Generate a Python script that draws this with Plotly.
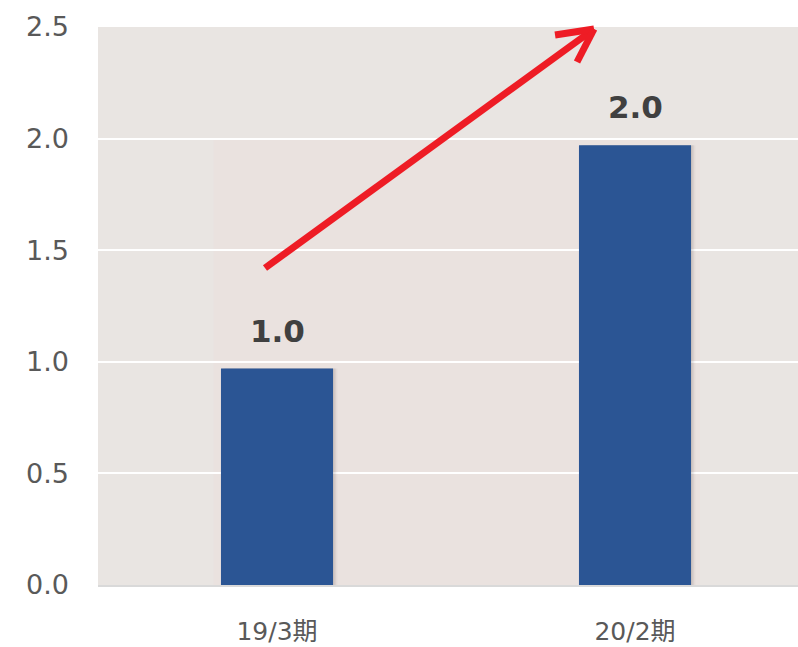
import plotly.graph_objects as go

categories = ["19/3期", "20/2期"]
values = [0.97, 1.97]
value_labels = ["1.0", "2.0"]
y_ticks = [0.0, 0.5, 1.0, 1.5, 2.0, 2.5]
y_tick_labels = ["0.0", "0.5", "1.0", "1.5", "2.0", "2.5"]

FONT = "DejaVu Sans, Noto Sans CJK JP, sans-serif"
BAR_W = 0.313

fig = go.Figure()
# soft shadow behind bars
for k, a in enumerate([0.10, 0.08, 0.05]):
    fig.add_trace(go.Bar(
        x=categories, y=values, width=BAR_W, offset=-BAR_W / 2 + 0.004 * (k + 1),
        marker=dict(color=f"rgba(90,80,75,{a})", line=dict(width=0)),
        hoverinfo="skip", showlegend=False,
    ))
fig.add_trace(go.Bar(
    x=categories, y=values, width=BAR_W, offset=-BAR_W / 2,
    marker=dict(color="#2B5594", line=dict(width=0)),
    showlegend=False,
))

for c, v, t in zip(categories, values, value_labels):
    fig.add_annotation(
        x=c, y=v, text=t, showarrow=False, xanchor="center", yanchor="bottom",
        yshift=18, font=dict(family=FONT, size=31, color="#404040", weight="bold"),
    )

# background band
fig.add_shape(type="rect", xref="paper", yref="paper", x0=0.165, x1=0.86, y0=0, y1=0.8,
              fillcolor="#EAE2DF", line=dict(width=0), layer="below")

# red trend arrow (paper coordinates)
RED = "#EE1C25"
tip = (0.7086, 0.9964)
for start in [(0.2386, 0.5681), (0.6529, 0.9857), (0.6843, 0.9373)]:
    fig.add_shape(type="line", xref="paper", yref="paper",
                  x0=start[0], y0=start[1], x1=tip[0], y1=tip[1],
                  line=dict(color=RED, width=7))

fig.update_layout(
    width=798, height=647,
    margin=dict(l=98, r=0, t=27, b=62),
    paper_bgcolor="white", plot_bgcolor="#E9E5E2",
    barmode="overlay",
    font=dict(family=FONT, color="#595959"),
)
fig.update_xaxes(
    type="category", range=[-0.5, 1.4553], automargin=False,
    showgrid=False, showline=True, linecolor="#D9D9D9", linewidth=2,
    ticks="", tickfont=dict(size=25, color="#595959"), ticklabelstandoff=23,
)
fig.update_yaxes(
    range=[0, 2.5], tickvals=y_ticks, ticktext=y_tick_labels, automargin=False,
    showgrid=True, gridcolor="white", gridwidth=2, zeroline=False,
    ticks="", tickfont=dict(size=27, color="#595959"), ticklabelstandoff=28,
)

fig.write_html("out.html", config={"displayModeBar": False})

with open("out.html", encoding="utf-8") as f:
    html = f.read()
html = html.replace("<body>", '<body style="margin:0;overflow:hidden">', 1)
with open("out.html", "w", encoding="utf-8") as f:
    f.write(html)
